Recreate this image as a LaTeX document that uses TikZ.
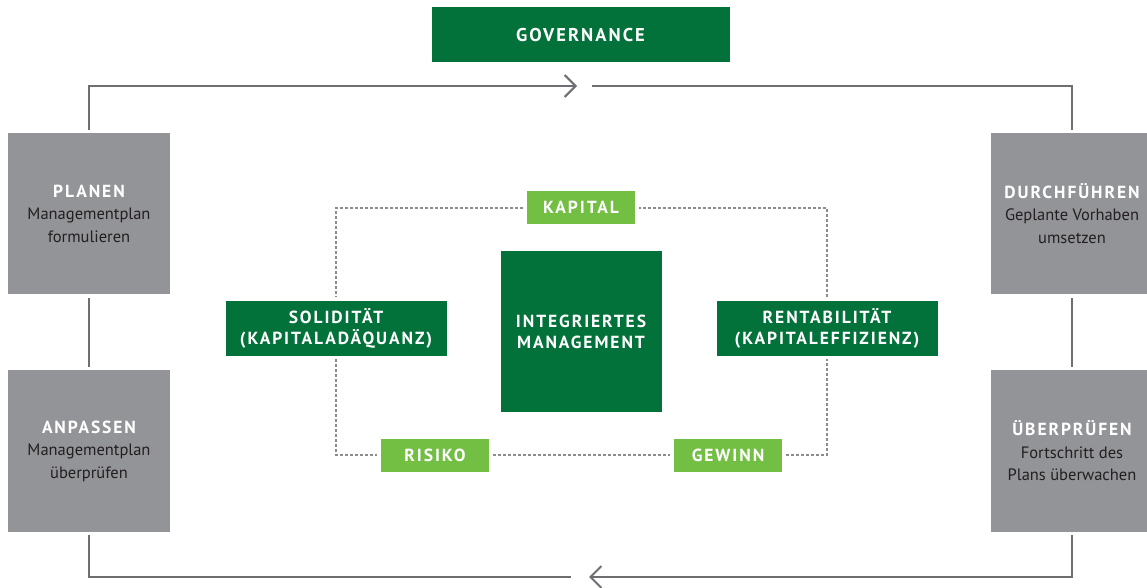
\documentclass[tikz,border=0pt]{standalone}
\usepackage{fontspec}
\setmainfont{PT Sans}
\newfontfamily\hdfont[LetterSpace=11]{PT Sans}
\usetikzlibrary{arrows.meta}
\definecolor{dkgreen}{RGB}{3,114,58}
\definecolor{ltgreen}{RGB}{114,191,68}
\definecolor{boxgray}{RGB}{147,148,151}
\definecolor{linegray}{RGB}{110,111,114}
\definecolor{dashgray}{RGB}{140,140,140}
\definecolor{txtdark}{RGB}{35,31,32}
\newcommand{\hdtext}[1]{{\hdfont\bfseries\color{white}\fontsize{17.5}{22}\selectfont#1}}
\begin{document}
\begin{tikzpicture}[x=1pt,y=-1pt,
  greybox/.style={fill=boxgray, minimum width=162pt, minimum height=161pt, inner sep=0pt,
    align=center, text=txtdark, font=\fontsize{16.5}{22.5}\selectfont},
  dkbox/.style={fill=dkgreen, inner sep=0pt, align=center, text=white,
    font=\hdfont\bfseries\fontsize{17.5}{21}\selectfont},
  ltbox/.style={fill=ltgreen, inner sep=0pt, text=white, minimum width=108pt, minimum height=33pt,
    font=\hdfont\bfseries\fontsize{17.5}{18}\selectfont},
  loopline/.style={draw=linegray, line width=2.6pt},
  looparrow/.style={loopline, -{Straight Barb[length=11pt, width=22pt, line width=2pt]}},
  dashline/.style={draw=dashgray, line width=1.1pt, dash pattern=on 3pt off 2pt}
]
\useasboundingbox (0,0) rectangle (1147,588);

% outer nodes
\node[dkbox, minimum width=298pt, minimum height=55pt,
  font=\hdfont\bfseries\fontsize{18.5}{21}\selectfont] (gov) at (580.5,35) {GOVERNANCE};
\node[greybox] (plan) at (89,213.5) {\hdtext{PLANEN}\\Managementplan\\formulieren};
\node[greybox, minimum height=162pt] (anp) at (89,451) {\hdtext{ANPASSEN}\\Managementplan\\überprüfen};
\node[greybox] (durch) at (1072,213.5) {\hdtext{DURCHFÜHREN}\\Geplante Vorhaben\\umsetzen};
\node[greybox, minimum height=162pt] (ueber) at (1072,451) {\hdtext{ÜBERPRÜFEN}\\Fortschritt des\\Plans überwachen};

% inner nodes
\node[dkbox, minimum width=161pt, minimum height=161pt] (int) at (581,331.5) {INTEGRIERTES\\MANAGEMENT};
\node[ltbox] (kap) at (581,207.5) {KAPITAL};
\node[dkbox, minimum width=221pt, minimum height=55pt] (sol) at (336,328.5) {SOLIDITÄT\\(KAPITALADÄQUANZ)};
\node[dkbox, minimum width=221pt, minimum height=55pt] (rent) at (827,328.5) {RENTABILITÄT\\(KAPITALEFFIZIENZ)};
\node[ltbox] (ris) at (435,455.5) {RISIKO};
\node[ltbox] (gew) at (728,455.5) {GEWINN};

% loop coordinates
\coordinate (tl) at (90,86);
\coordinate (tr) at (1072,86);
\coordinate (tarr) at (577,86);
\coordinate (tgap) at (592,86);
\coordinate (bl) at (89,577);
\coordinate (br) at (1072,577);
\coordinate (barr) at (589,577);
\coordinate (bgap) at (571,577);

\draw[looparrow] ([yshift=3pt]plan.north) -- (plan.north |- tl) -- (tarr);
\draw[loopline] (tgap) -- (tr) -- ([yshift=3pt]durch.north);
\draw[loopline] ([yshift=-4pt]plan.south) -- ([yshift=3pt]anp.north);
\draw[loopline] ([yshift=-4pt]durch.south) -- ([yshift=3pt]ueber.north);
\draw[looparrow] ([yshift=-3pt]ueber.south) -- (br) -- (barr);
\draw[loopline] (bgap) -- (bl) -- ([yshift=-3pt]anp.south);

% dashed rectangle
\coordinate (dtl) at (336,208);
\coordinate (dtr) at (827,208);
\coordinate (dbl) at (336,455);
\coordinate (dbr) at (827,455);
\draw[dashline] ([xshift=-4pt]kap.west |- dtl) -- (dtl) -- ([yshift=4pt]sol.north);
\draw[dashline] ([yshift=-3pt]sol.south) -- (dbl) -- ([xshift=-4pt]ris.west |- dbl);
\draw[dashline] ([xshift=4pt]ris.east |- dbl) -- ([xshift=-4pt]gew.west |- dbl);
\draw[dashline] ([xshift=4pt]gew.east |- dbr) -- (dbr) -- ([yshift=-3pt]rent.south);
\draw[dashline] ([yshift=4pt]rent.north) -- (dtr) -- ([xshift=4pt]kap.east |- dtr);
\end{tikzpicture}
\end{document}
